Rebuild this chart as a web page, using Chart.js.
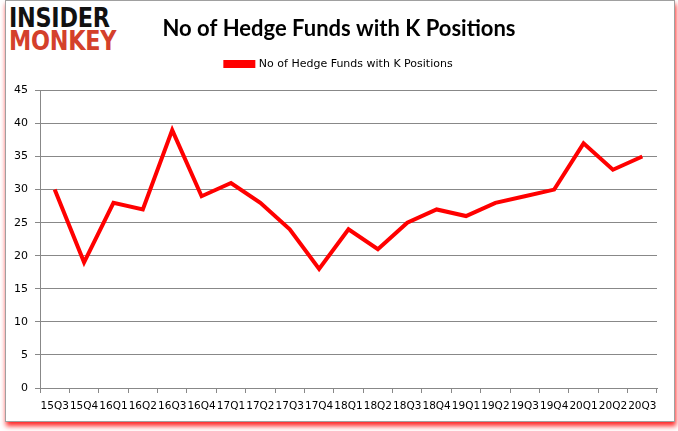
<!DOCTYPE html>
<html>
<head>
<meta charset="utf-8">
<script src="https://cdn.jsdelivr.net/npm/chart.js@4.4.1/dist/chart.umd.min.js"></script>
<style>
    body { margin: 0; background: #fff; }
    .wrap { position: relative; width: 678px; height: 431px; overflow: hidden; }
    .frame {
        position: absolute; left: 5px; top: 0; width: 668px; height: 420px;
        border: 1px solid #a0a0a0;
        box-shadow: 1px 4px 5px rgba(255, 0, 0, 0.85);
        background: #fff;
    }
    .logo {
        position: absolute; left: 9px; top: 7px;
        font-family: "DejaVu Sans", sans-serif; font-weight: bold;
        font-size: 26px; line-height: 23px; letter-spacing: -0.3px;
        transform-origin: left top; transform: scaleX(0.86);
        white-space: nowrap;
    }
    .logo .a { color: #111; }
    .logo .b { color: #d4402b; }
    canvas { position: absolute; left: 0; top: 0; }
</style>
</head>
<body>
<div class="wrap">
    <div class="frame"></div>
    <div class="logo"><div class="a">INSIDER</div><div class="b">MONKEY</div></div>
    <canvas id="chart" width="678" height="431"></canvas>
</div>
<script>
// Chart data
const quarters = ['15Q3', '15Q4', '16Q1', '16Q2', '16Q3', '16Q4', '17Q1', '17Q2', '17Q3', '17Q4',
    '18Q1', '18Q2', '18Q3', '18Q4', '19Q1', '19Q2', '19Q3', '19Q4', '20Q1', '20Q2', '20Q3'];
const hedgeFunds = [30, 19, 28, 27, 39, 29, 31, 28, 24, 18, 24, 21, 25, 27, 26, 28, 29, 30, 37, 33, 35];
const seriesName = 'No of Hedge Funds with K Positions';
const yTicks = [0, 5, 10, 15, 20, 25, 30, 35, 40, 45];

// extra space between legend and plot area
const legendGap = {
    id: 'legendGap',
    beforeInit(chart) {
        const fit = chart.legend.fit;
        chart.legend.fit = function() {
            fit.bind(chart.legend)();
            this.height += 11;
        };
    }
};

const ctx = document.getElementById('chart');
new Chart(ctx, {
    type: 'line',
    data: {
        labels: quarters,
        datasets: [{
            label: seriesName,
            data: hedgeFunds,
            borderColor: '#ff0000',
            backgroundColor: '#ff0000',
            borderWidth: 4,
            pointRadius: 0,
            tension: 0
        }]
    },
    options: {
        responsive: false,
        animation: false,
        layout: { padding: { left: 0, right: 0, top: 8, bottom: 0 } },
        plugins: {
            title: {
                display: true,
                text: seriesName,
                color: '#000',
                font: { family: 'Lato', size: 22, weight: 'bold' },
                padding: { top: 8, bottom: 8 }
            },
            legend: {
                display: true,
                labels: {
                    boxWidth: 28,
                    boxHeight: 4,
                    color: '#000',
                    font: { family: 'DejaVu Sans', size: 11 },
                    padding: 8
                }
            },
            tooltip: { enabled: false }
        },
        scales: {
            x: {
                offset: true,
                grid: { drawOnChartArea: false, drawTicks: true, tickLength: 5, color: '#888', offset: true },
                border: { color: '#888', width: 1 },
                ticks: {
                    autoSkip: false, maxRotation: 0, minRotation: 0,
                    color: '#000', padding: 7,
                    font: { family: 'DejaVu Sans', size: 10.5 }
                },
                afterFit: function(scale) { scale.height = 43; }
            },
            y: {
                min: 0,
                max: 45,
                afterBuildTicks: function(scale) { scale.ticks = yTicks.map(v => ({ value: v })); },
                grid: { color: '#888', tickLength: 5 },
                border: { color: '#888', width: 1 },
                ticks: {
                    color: '#000', padding: 7,
                    font: { family: 'DejaVu Sans', size: 11 }
                },
                afterFit: function(scale) { scale.width = 40; }
            },
            // empty right-hand axis that only reserves the margin
            yRight: {
                position: 'right',
                display: true,
                grid: { display: false },
                border: { display: false },
                ticks: { display: false },
                afterFit: function(scale) { scale.width = 21; }
            }
        }
    },
    plugins: [legendGap]
});
</script>
</body>
</html>
